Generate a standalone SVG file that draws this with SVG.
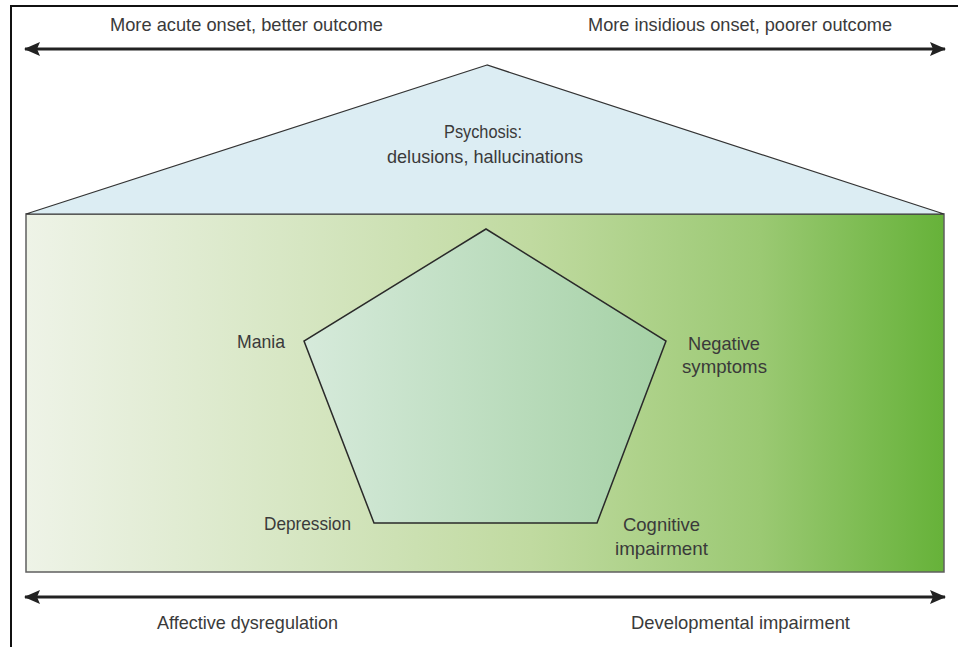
<svg xmlns="http://www.w3.org/2000/svg" width="958" height="647" viewBox="0 0 958 647">
<defs>
<linearGradient id="gBand" x1="0" y1="0" x2="1" y2="0">
<stop offset="0" stop-color="#eef3e7"/>
<stop offset="0.3" stop-color="#d6e6c2"/>
<stop offset="0.55" stop-color="#c0daa0"/>
<stop offset="0.8" stop-color="#9bc973"/>
<stop offset="1" stop-color="#66b239"/>
</linearGradient>
<linearGradient id="gPent" x1="0" y1="0" x2="1" y2="0">
<stop offset="0" stop-color="#d6eadb"/>
<stop offset="1" stop-color="#a5d1a5"/>
</linearGradient>
<marker id="ah" viewBox="0 0 16 14" refX="15" refY="7" markerWidth="16" markerHeight="14" markerUnits="userSpaceOnUse" orient="auto-start-reverse">
<path d="M0,0 L16,7 L0,14 L3,7 Z" fill="#222"/>
</marker>
<style>
text{font-family:"Liberation Sans",Arial,sans-serif;font-size:19px;fill:#3a3a3a}
.axis{stroke:#222;stroke-width:3;fill:none}
</style>
</defs>
<rect x="0" y="0" width="958" height="647" fill="#ffffff"/>
<rect id="frame" x="11" y="6" width="960" height="660" fill="none" stroke="#111" stroke-width="2"/>

<g id="band">
<rect x="26" y="214" width="918" height="358" fill="url(#gBand)" stroke="#5f5f5f" stroke-width="1.5"/>
</g>

<g id="psychosis">
<polygon points="487,65 26,214 944,214" fill="#dcedf3" stroke="#333" stroke-width="1.2"/>
<text x="483" y="138" text-anchor="middle" textLength="78" lengthAdjust="spacingAndGlyphs">Psychosis:</text>
<text x="485" y="163" text-anchor="middle" textLength="196" lengthAdjust="spacingAndGlyphs">delusions, hallucinations</text>
</g>

<g id="pentagon">
<polygon points="486,229 304,341 374,523 597,523 666,341" fill="url(#gPent)" stroke="#2a2a2a" stroke-width="1.5"/>
</g>

<g id="mania"><text x="237" y="348" textLength="48" lengthAdjust="spacingAndGlyphs">Mania</text></g>
<g id="negative">
<text x="688" y="350" textLength="72" lengthAdjust="spacingAndGlyphs">Negative</text>
<text x="682" y="373" textLength="85" lengthAdjust="spacingAndGlyphs">symptoms</text>
</g>
<g id="depression"><text x="264" y="530" textLength="87" lengthAdjust="spacingAndGlyphs">Depression</text></g>
<g id="cognitive">
<text x="623" y="531" textLength="77" lengthAdjust="spacingAndGlyphs">Cognitive</text>
<text x="615" y="555" textLength="93" lengthAdjust="spacingAndGlyphs">impairment</text>
</g>

<g id="connectors">
<line class="axis" x1="25" y1="49" x2="945" y2="49" marker-start="url(#ah)" marker-end="url(#ah)"/>
<line class="axis" x1="25" y1="597" x2="945" y2="597" marker-start="url(#ah)" marker-end="url(#ah)"/>
</g>

<g id="labels">
<text x="110" y="31" textLength="273" lengthAdjust="spacingAndGlyphs">More acute onset, better outcome</text>
<text x="588" y="31" textLength="304" lengthAdjust="spacingAndGlyphs">More insidious onset, poorer outcome</text>
<text x="157" y="629" textLength="181" lengthAdjust="spacingAndGlyphs">Affective dysregulation</text>
<text x="631" y="629" textLength="219" lengthAdjust="spacingAndGlyphs">Developmental impairment</text>
</g>
</svg>
